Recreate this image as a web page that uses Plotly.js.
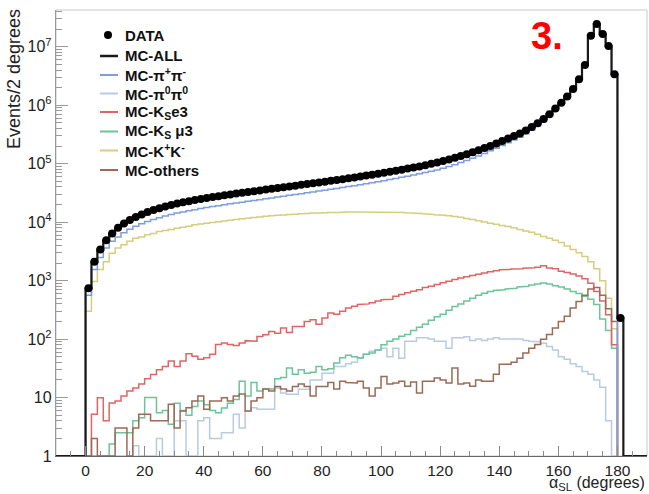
<!DOCTYPE html>
<html>
<head>
<meta charset="utf-8">
<script src="https://cdn.plot.ly/plotly-3.0.1.min.js"></script>
<style>
  html, body { margin: 0; padding: 0; background: #ffffff; }
  #chart { width: 649px; height: 494px; }
</style>
</head>
<body>
<div id="chart"></div>
<script>
// Opening-angle distribution, 2-degree bins starting at 0 degrees.
const binWidth = 2;

// Measured events per bin (bins 0-2 ... 180-182)
const dataCounts = [
  740, 2100, 3400, 4900, 6400, 8000, 9500, 10900, 12300, 13600,
  14900, 16100, 17300, 18500, 19700, 20900, 21900, 22900, 23900, 24900,
  25900, 26900, 27900, 28900, 29900, 30900, 31900, 32900, 33900, 35000,
  36100, 37200, 38400, 39600, 40900, 42200, 43600, 45000, 46400, 47900,
  49400, 51000, 52700, 54500, 56400, 58400, 60500, 62700, 65000, 67500,
  70100, 72900, 75900, 79100, 82500, 86200, 90100, 94300, 100000, 105000,
  111000, 118000, 126000, 135000, 145000, 157000, 170000, 185000, 202000, 222000,
  245000, 270000, 297000, 330000, 372000, 425000, 492000, 580000, 700000, 880000,
  1100000, 1420000, 1900000, 2800000, 4900000, 15500000, 24500000, 16500000, 10300000, 3400000,
  230
];

// Total simulation
const mcAll = [
  740, 2100, 3400, 4900, 6400, 8000, 9500, 10900, 12300, 13600,
  14900, 16100, 17300, 18500, 19700, 20900, 21900, 22900, 23900, 24900,
  25900, 26900, 27900, 28900, 29900, 30900, 31900, 32900, 33900, 35000,
  36100, 37200, 38400, 39600, 40900, 42200, 43600, 45000, 46400, 47900,
  49400, 51000, 52700, 54500, 56400, 58400, 60500, 62700, 65000, 67500,
  70100, 72900, 75900, 79100, 82500, 86200, 90100, 94300, 100000, 105000,
  111000, 118000, 126000, 135000, 145000, 157000, 170000, 185000, 202000, 222000,
  245000, 270000, 297000, 330000, 372000, 425000, 492000, 580000, 700000, 880000,
  1100000, 1420000, 1900000, 2800000, 4900000, 15500000, 24500000, 16500000, 10300000, 3400000,
  230
];

// Simulated components (bins 0-2 ... 178-180)
const mcPiPi = [
  560, 1550, 2500, 3600, 4700, 5600, 6600, 7600, 8500, 9400,
  10300, 11100, 11900, 12700, 13500, 14300, 15000, 15700, 16400, 17100,
  17800, 18500, 19200, 19900, 20600, 21300, 22000, 22800, 23500, 24300,
  25100, 26000, 26900, 27800, 28800, 29800, 30800, 31900, 33000, 34100,
  35300, 36500, 37800, 39200, 40700, 42200, 43800, 45500, 47300, 49300,
  51400, 53600, 56000, 58600, 61300, 64200, 67400, 70800, 74500, 78500,
  83500, 89500, 96500, 104500, 113500, 124000, 136000, 150000, 166000, 184000,
  205000, 228000, 254000, 285000, 325000, 375000, 440000, 525000, 640000, 815000,
  1060000, 1370000, 1840000, 2720000, 4800000, 15200000, 24200000, 16300000, 10200000, 3350000
];

const mcPi0Pi0 = [
  0, 0, 0, 0, 0, 0, 0, 0, 1.5, 0,
  0, 0, 2, 0, 0, 4, 4, 0, 0, 4,
  4.5, 2, 2, 2.5, 2.5, 5.2, 3, 5.9, 6.7, 6.3,
  6.3, 6.3, 14.6, 12, 11.4, 11.4, 13.9, 13.9, 20, 20,
  26, 26, 34, 34, 38, 40, 47, 55, 62, 65,
  70, 50, 70, 47, 92, 92, 105, 105, 100, 92,
  92, 70, 105, 105, 110, 95, 100, 95, 100, 105,
  100, 100, 98, 100, 95, 92, 90, 85, 75, 65,
  50, 45, 38, 34, 28, 25, 20, 15, 4, 0
];

const mcKe3 = [
  0, 5.2, 9.9, 4, 8.1, 8.7, 10.6, 12.9, 14.5, 17,
  21, 24.7, 30, 34, 42, 34, 42, 56, 51, 45,
  48, 55, 81, 86, 81, 78, 86, 94, 92, 111,
  119, 135, 126, 155, 130, 165, 165, 200, 215, 180,
  230, 280, 265, 300, 340, 364, 390, 400, 420, 450,
  470, 480, 540, 580, 620, 660, 700, 760, 800, 860,
  920, 980, 1050, 1110, 1170, 1230, 1290, 1350, 1420, 1480,
  1530, 1560, 1580, 1600, 1630, 1660, 1700, 1800, 1650, 1600,
  1450, 1380, 1300, 1200, 1080, 900, 650, 450, 260, 80
];

const mcKmu3 = [
  0, 0, 0, 0, 1.6, 2.5, 2.5, 2.5, 4, 4.5,
  10, 10, 5.5, 6, 3.5, 8, 6, 5, 7, 8.7,
  7.5, 6, 5.5, 6.6, 8, 9.3, 19, 10.6, 18, 13,
  14, 14, 21, 22, 32, 25, 30, 26, 27, 34,
  30, 31, 39, 48, 53, 50, 48, 55, 58, 65,
  80, 92, 100, 112, 120, 140, 160, 180, 210, 240,
  265, 310, 360, 400, 450, 500, 560, 610, 650, 680,
  700, 720, 740, 780, 800, 840, 880, 910, 880, 820,
  780, 720, 650, 600, 540, 480, 390, 220, 140, 70
];

const mcKK = [
  300, 970, 1550, 2100, 2950, 3600, 4100, 4700, 5300, 5600,
  6100, 6400, 6900, 7200, 7500, 7900, 8200, 8500, 9000, 9300,
  9600, 9900, 10200, 10500, 10800, 11100, 11400, 11700, 12000, 12300,
  12600, 12900, 13100, 13300, 13500, 13700, 13900, 14100, 14300, 14400,
  14500, 14600, 14700, 14800, 14900, 15000, 15000, 15000, 15000, 14900,
  14900, 14800, 14700, 14600, 14500, 14300, 14100, 13900, 13600, 13400,
  13200, 12900, 12500, 12100, 11600, 11100, 10600, 10100, 9600, 9200,
  8800, 8400, 8000, 7500, 7100, 6700, 6200, 5700, 5300, 4900,
  4500, 3900, 3400, 3000, 2600, 2100, 1600, 1000, 500, 150
];

const mcOthers = [
  0, 2, 0, 0, 0, 3, 3, 0, 3, 5.2,
  5.2, 4, 4, 4, 7.7, 3, 5.9, 6.7, 8.7, 10.6,
  6.3, 8.7, 8.7, 9.9, 8.7, 10.6, 11.5, 5.9, 8.7, 9.9,
  14, 13, 15.5, 14, 13, 15.5, 17, 15.5, 10.6, 15.5,
  15.5, 18, 14, 19, 18, 17.8, 19, 14.6, 10.6, 14.6,
  23, 17, 17.8, 19, 15.6, 18.5, 12, 19, 19, 21.7,
  20, 17.8, 32, 17, 17.8, 15.6, 20, 19, 19, 25,
  37, 37, 40, 47, 58, 70, 81, 99, 120, 155,
  200, 245, 340, 440, 560, 720, 760, 560, 330, 200
];

// Axis ticks
const xTickVals = [0, 20, 40, 60, 80, 100, 120, 140, 160, 180];
const yTickVals = [1, 10, 1e2, 1e3, 1e4, 1e5, 1e6, 1e7];
const yTickText = ['1', '10', '10<sup>2</sup>', '10<sup>3</sup>', '10<sup>4</sup>',
                   '10<sup>5</sup>', '10<sup>6</sup>', '10<sup>7</sup>'];

const xRange = [-10, 190];
const yLogRange = [0, 7.63];
const FLOOR = Math.pow(10, yLogRange[0]); // empty bins sit on the bottom of the log axis

// Turn bin contents into an outlined step histogram
function stepXY(counts, lo, hi) {
  const xs = [], ys = [];
  if (lo !== undefined) { xs.push(lo); ys.push(FLOOR); }
  xs.push(0); ys.push(FLOOR);
  counts.forEach((c, i) => {
    const v = c > 0 ? c : FLOOR;
    xs.push(i * binWidth, (i + 1) * binWidth);
    ys.push(v, v);
  });
  const end = counts.length * binWidth;
  xs.push(end); ys.push(FLOOR);
  if (hi !== undefined) { xs.push(hi); ys.push(FLOOR); }
  return { x: xs, y: ys };
}

const series = [
  { name: 'MC-K<sup>+</sup>K<sup>-</sup>', counts: mcKK, color: '#d6cd7e', width: 1.5 },
  { name: 'MC-π<sup>0</sup>π<sup>0</sup>', counts: mcPi0Pi0, color: '#b8cbe0', width: 1.5 },
  { name: 'MC-K<sub>S</sub> μ3', counts: mcKmu3, color: '#6cc49a', width: 1.5 },
  { name: 'MC-K<sub>S</sub>e3', counts: mcKe3, color: '#e06464', width: 1.5 },
  { name: 'MC-others', counts: mcOthers, color: '#9c6a55', width: 1.5 },
  { name: 'MC-π<sup>+</sup>π<sup>-</sup>', counts: mcPiPi, color: '#7f9edf', width: 1.5 }
];

const traces = series.map(s => {
  const st = stepXY(s.counts);
  return { type: 'scatter', mode: 'lines', x: st.x, y: st.y, name: s.name,
           line: { color: s.color, width: s.width }, hoverinfo: 'skip', showlegend: false };
});

const allStep = stepXY(mcAll, xRange[0], xRange[1]);
traces.push({ type: 'scatter', mode: 'lines', x: allStep.x, y: allStep.y, name: 'MC-ALL',
              line: { color: '#1a1a1a', width: 2.2 }, showlegend: false });

const centers = dataCounts.map((_, i) => i * binWidth + binWidth / 2);
traces.push({ type: 'scatter', mode: 'markers', x: centers, y: dataCounts, name: 'DATA',
              marker: { color: '#000000', size: 8, symbol: 'circle' }, showlegend: false });

// Minor ticks on the log axis: 2..9 within each decade
const yMinor = [];
for (let d = 0; d <= 7; d++) {
  for (let m = 2; m <= 9; m++) {
    const v = m * Math.pow(10, d);
    if (Math.log10(v) < yLogRange[1]) yMinor.push(v);
  }
}

// Plot area in pixels
const L = 56, R = 647, T = 10, B = 456;
const W = 649, H = 494;
const px = x => (x - L) / (R - L);
const py = y => (B - y) / (B - T);

const FONT = 'Liberation Sans, Arial, Helvetica, sans-serif';

// Legend rows
const legendRows = [
  { label: '<b>DATA</b>', kind: 'marker', color: '#000000', y: 35 },
  { label: '<b>MC-ALL</b>', kind: 'line', color: '#1a1a1a', width: 2.5, y: 56 },
  { label: '<b>MC-π<sup>+</sup>π<sup>-</sup></b>', kind: 'line', color: '#7f9edf', width: 2, y: 75 },
  { label: '<b>MC-π<sup>0</sup>π<sup>0</sup></b>', kind: 'line', color: '#b8cbe0', width: 2, y: 93.5 },
  { label: '<b>MC-K<sub>S</sub>e3</b>', kind: 'line', color: '#e06464', width: 2, y: 112 },
  { label: '<b>MC-K<sub>S</sub> μ3</b>', kind: 'line', color: '#6cc49a', width: 2, y: 131.5 },
  { label: '<b>MC-K<sup>+</sup>K<sup>-</sup></b>', kind: 'line', color: '#d6cd7e', width: 2, y: 150.5 },
  { label: '<b>MC-others</b>', kind: 'line', color: '#9c6a55', width: 2, y: 170 }
];

const shapes = [
  // frame
  { type: 'rect', xref: 'paper', yref: 'paper', x0: 0, x1: 1, y0: 0, y1: 1,
    line: { color: '#c8c8c8', width: 1 }, layer: 'below' }
];
const annotations = [];

legendRows.forEach(r => {
  if (r.kind === 'marker') {
    shapes.push({ type: 'circle', xref: 'paper', yref: 'paper',
      x0: px(104), x1: px(112), y0: py(r.y + 4), y1: py(r.y - 4),
      fillcolor: r.color, line: { color: r.color, width: 0 } });
  } else {
    shapes.push({ type: 'line', xref: 'paper', yref: 'paper',
      x0: px(100), x1: px(118), y0: py(r.y), y1: py(r.y),
      line: { color: r.color, width: r.width } });
  }
  annotations.push({ xref: 'paper', yref: 'paper', x: px(123), y: py(r.y),
    xanchor: 'left', yanchor: 'middle', showarrow: false, text: r.label,
    font: { family: FONT, size: 15, color: '#111111' } });
});

// Axis titles
annotations.push({ xref: 'paper', yref: 'paper', x: px(14), y: py(7),
  xanchor: 'center', yanchor: 'top', textangle: -90, showarrow: false,
  text: 'Events/2 degrees', font: { family: FONT, size: 18, color: '#222222' } });
annotations.push({ xref: 'paper', yref: 'paper', x: px(646), y: py(483.5),
  xanchor: 'right', yanchor: 'middle', showarrow: false, borderpad: 0,
  text: 'α<sub>SL</sub> (degrees)', font: { family: FONT, size: 16, color: '#222222' } });

// Panel number
annotations.push({ xref: 'paper', yref: 'paper', x: px(547), y: py(36),
  xanchor: 'center', yanchor: 'middle', showarrow: false,
  text: '<b>3.</b>', font: { family: FONT, size: 38, color: '#ff0000' } });

const layout = {
  width: W, height: H,
  margin: { l: L, r: W - R, t: T, b: H - B, pad: 0 },
  paper_bgcolor: '#ffffff', plot_bgcolor: '#ffffff',
  showlegend: false,
  font: { family: FONT, size: 16, color: '#222222' },
  xaxis: {
    range: xRange, tickvals: xTickVals, ticks: 'inside', ticklen: 10, tickwidth: 1,
    tickcolor: '#8a8a8a', showline: true, linecolor: '#666666', linewidth: 1.2,
    showgrid: false, zeroline: false,
    minor: { dtick: 5, ticks: 'inside', ticklen: 5, tickcolor: '#8a8a8a', showgrid: false },
    tickfont: { family: FONT, size: 15.5, color: '#222222' }
  },
  yaxis: {
    type: 'log', range: yLogRange, tickvals: yTickVals, ticktext: yTickText,
    ticks: 'inside', ticklen: 12, tickwidth: 1, tickcolor: '#9a9a9a',
    showline: true, linecolor: '#9a9a9a', linewidth: 1.2, showgrid: false, zeroline: false,
    minor: { tickvals: yMinor, ticks: 'inside', ticklen: 6, tickcolor: '#9a9a9a', showgrid: false },
    tickfont: { family: FONT, size: 16, color: '#222222' }
  },
  shapes: shapes,
  annotations: annotations
};

Plotly.newPlot('chart', traces, layout, { staticPlot: true, displayModeBar: false });
</script>
</body>
</html>
